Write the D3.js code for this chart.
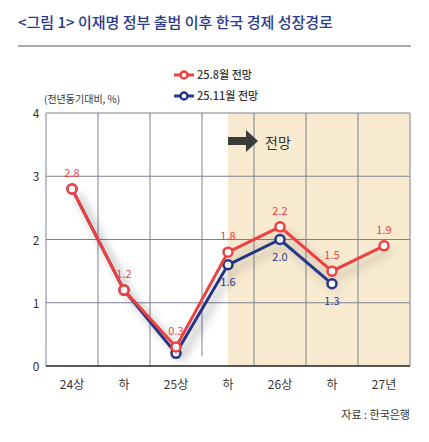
<!DOCTYPE html>
<html><head><meta charset="utf-8">
<script src="https://cdn.jsdelivr.net/npm/d3@7"></script>
<style>body{margin:0;background:#fff;font-family:"Noto Sans CJK KR","Noto Sans",sans-serif;}</style>
</head><body><svg id="c" width="429" height="442"></svg>
<script>
const categories = ["24상", "하", "25상", "하", "26상", "하", "27년"];
const augValues = [2.8, 1.2, 0.3, 1.8, 2.2, 1.5, 1.9];
const novValues = [2.8, 1.2, 0.2, 1.6, 2.0, 1.3, null];
const yTicks = [0, 1, 2, 3, 4];

const svg = d3.select("#c");
const plotL = 46, plotR = 410, plotT = 113, plotB = 366;

// title
svg.append("text").attr("x", 18).attr("y", 28).attr("fill", "#2a3a8c")
    .attr("font-size", 15).attr("font-weight", 500).text("<그림 1> 이재명 정부 출범 이후 한국 경제 성장경로");
svg.append("line").attr("x1", 18).attr("x2", 411).attr("y1", 46).attr("y2", 46).attr("stroke", "#555");

const x = d3.scaleBand().domain(d3.range(categories.length)).range([plotL, plotR]);
const y = d3.scaleLinear().domain([0, 4]).range([plotB, plotT]);
const cx = i => x(i) + x.bandwidth() / 2;

// forecast shading
svg.append("rect").attr("x", cx(3)).attr("y", plotT).attr("width", plotR - cx(3)).attr("height", plotB - plotT).attr("fill", "#f8ead0");

// grid
svg.selectAll(".hg").data(yTicks.slice(1)).enter().append("line")
    .attr("x1", plotL).attr("x2", plotR).attr("y1", d => y(d)).attr("y2", d => y(d)).attr("stroke", "#7d8190");
svg.selectAll(".vg").data(d3.range(categories.length + 1)).enter().append("line")
    .attr("x1", d => plotL + d * x.bandwidth()).attr("x2", d => plotL + d * x.bandwidth())
    .attr("y1", plotT).attr("y2", d => d === 3 ? plotB - 10 : plotB).attr("stroke", "#7d8190");
svg.append("line").attr("x1", plotL).attr("x2", plotR).attr("y1", plotB).attr("y2", plotB).attr("stroke", "#222").attr("stroke-width", 1.5);

svg.selectAll(".yl").data(yTicks).enter().append("text")
    .attr("x", 36).attr("y", d => y(d) + 5).attr("text-anchor", "middle").attr("font-size", 12).attr("fill", "#333").text(d => d);
svg.selectAll(".xl").data(categories).enter().append("text")
    .attr("x", (d, i) => cx(i)).attr("y", 389).attr("text-anchor", "middle").attr("font-size", 12).attr("fill", "#333").text(d => d);

svg.append("text").attr("x", 44).attr("y", 103).attr("font-size", 10).attr("fill", "#333").text("(전년동기대비, %)");

// arrow
svg.append("path").attr("d", "M228,137 H246 V130 L258,141 L246,152 V145 H228 Z").attr("fill", "#3a3a3a");
svg.append("text").attr("x", 265).attr("y", 148).attr("font-size", 14).attr("fill", "#333").text("전망");

// shadow
const defs = svg.append("defs");
defs.append("filter").attr("id", "sh").append("feDropShadow")
    .attr("dx", 6).attr("dy", 6).attr("stdDeviation", 4).attr("flood-color", "#000").attr("flood-opacity", 0.25);

const line = d3.line().defined(d => d != null).x((d, i) => cx(i)).y(d => y(d));
function series(vals, color) {
    const g = svg.append("g");
    g.append("path").datum(vals).attr("d", line).attr("fill", "none").attr("stroke", color).attr("stroke-width", 3).attr("filter", "url(#sh)");
    g.selectAll("circle").data(vals.map((v, i) => [v, i]).filter(d => d[0] != null)).enter().append("circle")
        .attr("cx", d => cx(d[1])).attr("cy", d => y(d[0])).attr("r", 4.5).attr("fill", "#fff").attr("stroke", color).attr("stroke-width", 2.5);
}
series(novValues, "#26378c");
series(augValues, "#ef4040");

// labels
svg.selectAll(".al").data(augValues).enter().append("text")
    .attr("x", (d, i) => cx(i)).attr("y", d => y(d) - 12).attr("text-anchor", "middle").attr("font-size", 11).attr("fill", "#ef4040").text(d => d.toFixed(1));
const novLab = [[1.6, 3], [2.0, 4], [1.3, 5]];
svg.selectAll(".nl").data(novLab).enter().append("text")
    .attr("x", d => cx(d[1])).attr("y", d => y(d[0]) + 21).attr("text-anchor", "middle").attr("font-size", 11).attr("fill", "#26378c").text(d => d[0].toFixed(1));

// legend
const leg = [["25.8월 전망", "#ef4040", 75], ["25.11월 전망", "#26378c", 96]];
leg.forEach(l => {
    svg.append("line").attr("x1", 174).attr("x2", 194).attr("y1", l[2]).attr("y2", l[2]).attr("stroke", l[1]).attr("stroke-width", 3);
    svg.append("circle").attr("cx", 184).attr("cy", l[2]).attr("r", 3.5).attr("fill", "#fff").attr("stroke", l[1]).attr("stroke-width", 2.5);
    svg.append("text").attr("x", 197).attr("y", l[2] + 4).attr("font-size", 11).attr("font-weight", 500).attr("fill", "#333").text(l[0]);
});

svg.append("text").attr("x", 410).attr("y", 419).attr("text-anchor", "end").attr("font-size", 11).attr("fill", "#333").text("자료 : 한국은행");
</script></body></html>
